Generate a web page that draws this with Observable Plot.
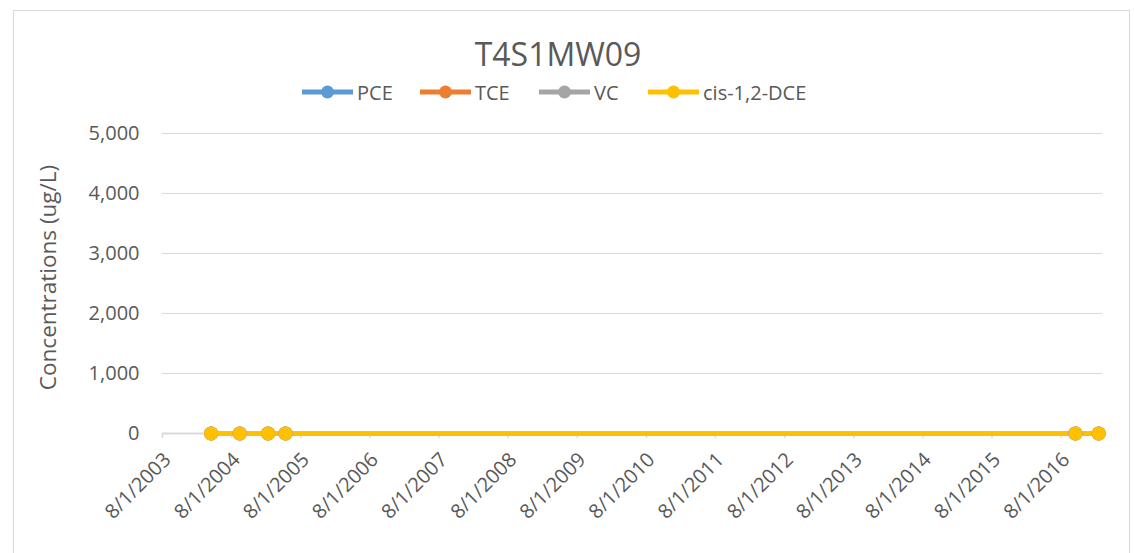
<!DOCTYPE html>
<html><head><meta charset="utf-8">
<script src="https://cdn.jsdelivr.net/npm/d3@7"></script>
<script src="https://cdn.jsdelivr.net/npm/@observablehq/plot@0.6"></script>
<style>
html,body{margin:0;padding:0;background:#fff;overflow:hidden;width:1134px;height:553px}
body{font-family:"Open Sans",sans-serif;color:#595959;position:relative}
#frame{position:absolute;left:13px;top:10px;width:1117px;height:600px;border:1px solid #d9d9d9;box-sizing:border-box}
#title{position:absolute;left:0;top:38px;width:1116px;text-align:center;font-size:32px;line-height:32px;color:#595959}
#legend{position:absolute;left:0;top:80px;width:1134px;height:24px}
.item{position:absolute;top:0;height:24px;display:flex;align-items:center;font-size:20px;color:#595959}
#chart{position:absolute;left:0;top:110px}
#chart svg{overflow:visible}
</style></head>
<body>
<div id="frame"></div>
<div id="title"></div>
<div id="legend"></div>
<div id="chart"></div>
<script>
const chartTitle = "T4S1MW09";
const yLabel = "Concentrations (ug/L)";
const series = ["PCE", "TCE", "VC", "cis-1,2-DCE"];
const colors = ["#5B9BD5", "#ED7D31", "#A5A5A5", "#FFC000"];
const sampleDates = ["2004-04-14", "2004-09-12", "2005-02-09", "2005-05-12", "2016-10-15", "2017-02-15"];
const pce = [0, 0, 0, 0, 0, 0];
const tce = [0, 0, 0, 0, 0, 0];
const vc = [0, 0, 0, 0, 0, 0];
const dce = [0, 0, 0, 0, 0, 0];
const yTicks = [0, 1000, 2000, 3000, 4000, 5000];
const xTicks = ["2003-08-01","2004-08-01","2005-08-01","2006-08-01","2007-08-01","2008-08-01","2009-08-01","2010-08-01","2011-08-01","2012-08-01","2013-08-01","2014-08-01","2015-08-01","2016-08-01"];
const xDomain = ["2003-08-01", "2017-03-07"];

const values = [pce, tce, vc, dce];
const data = [];
series.forEach((s, i) => sampleDates.forEach((d, j) => data.push({series: s, date: new Date(d), value: values[i][j]})));

document.getElementById("title").textContent = chartTitle;
const legendLeft = [302, 420, 539, 648];
const legend = document.getElementById("legend");
series.forEach((s, i) => {
  const it = document.createElement("div");
  it.className = "item";
  it.style.left = legendLeft[i] + "px";
  it.innerHTML = `<svg width="51" height="24" style="margin-right:4px"><line x1="0" x2="51" y1="12" y2="12" stroke="${colors[i]}" stroke-width="5" stroke-linecap="round"/><circle cx="25.5" cy="12" r="6.5" fill="${colors[i]}"/></svg><span></span>`;
  it.querySelector("span").textContent = s;
  legend.appendChild(it);
});

const fmt = d => `${d.getUTCMonth() + 1}/${d.getUTCDate()}/${d.getUTCFullYear()}`;
const xTickDates = xTicks.map(d => new Date(d));
const plot = Plot.plot({
  width: 1134, height: 443,
  marginTop: 23, marginBottom: 120, marginLeft: 162, marginRight: 32,
  style: {fontFamily: "Open Sans", fontSize: "20px", color: "#595959", background: "transparent", overflow: "visible"},
  x: {type: "utc", domain: xDomain.map(d => new Date(d))},
  y: {domain: [0, 5000]},
  color: {domain: series, range: colors},
  marks: [
    Plot.gridY(yTicks.filter(d => d > 0), {stroke: "#d9d9d9", strokeOpacity: 1, strokeWidth: 1}),
    Plot.axisY(yTicks, {tickSize: 0, tickPadding: 23, tickFormat: d => d3.format(",")(d), fill: "#595959", fontSize: 20, label: null}),
    Plot.ruleY([0], {stroke: "#d9d9d9", strokeWidth: 2}),
    Plot.axisX(xTickDates, {tickSize: 5, stroke: "#d9d9d9", strokeWidth: 1.5, text: null, label: null}),
    Plot.axisX(xTickDates, {tickSize: 0, tickRotate: -45, tickPadding: 23, dx: 5, tickFormat: fmt, fill: "#595959", fontSize: 20, label: null}),
    Plot.text([yLabel], {text: d => d, frameAnchor: "left", dx: -114, dy: -6, rotate: -90, textAnchor: "middle", fontSize: 22.5, fill: "#595959"}),
    Plot.lineY(data, {x: "date", y: "value", z: "series", stroke: "series", strokeWidth: 5}),
    Plot.dot(data, {x: "date", y: "value", fill: "series", r: 7, stroke: "none"})
  ]
});
document.getElementById("chart").appendChild(plot);
</script>
</body></html>
